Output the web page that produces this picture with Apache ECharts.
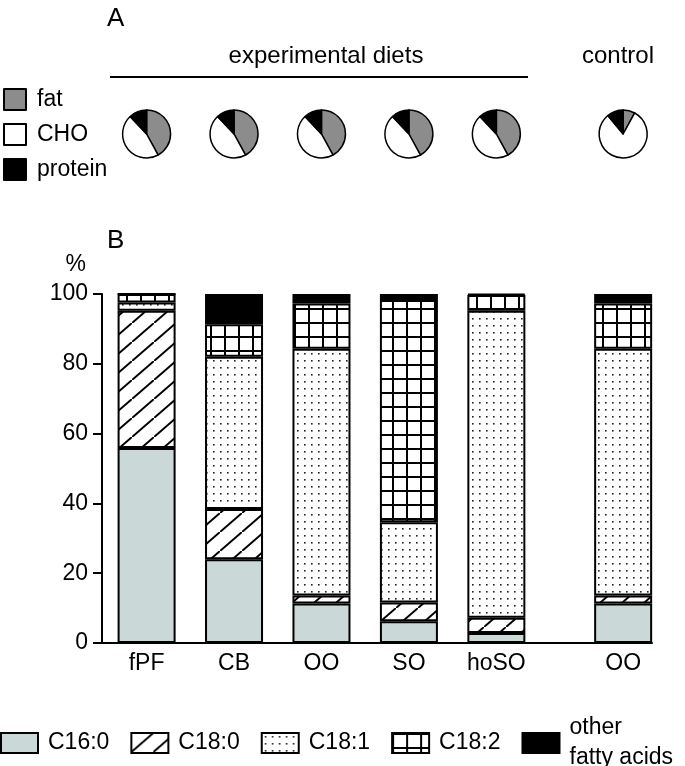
<!DOCTYPE html>
<html>
<head>
<meta charset="utf-8">
<script src="https://cdn.jsdelivr.net/npm/echarts@6.0.0/dist/echarts.min.js"></script>
<style>
  html, body { margin: 0; padding: 0; background: #fff; }
  #chart { width: 685px; height: 766px; }
</style>
</head>
<body>
<div id="chart"></div>
<script>
// panel B: fatty acid composition (% of total fat)
const diets = ["fPF", "CB", "OO", "SO", "hoSO", "OO"];
const dietPos = [0, 1, 2, 3, 4, 5.45]; // control sits a bit further right
const c160 = [55.9, 24.0, 11.3, 6.2, 2.9, 11.3];
const c180 = [39.3, 14.4, 2.3, 5.4, 4.3, 2.3];
const c181 = [2.4, 43.6, 70.7, 23.0, 88.0, 70.7];
const c182 = [2.4, 9.3, 13.0, 63.7, 4.5, 13.0];
const otherFa = [0, 8.7, 2.7, 1.7, 0.3, 2.7];
const yTicks = [0, 20, 40, 60, 80, 100];

// panel A: energy share of the diets
const macroNames = ["fat", "CHO", "protein"];
const expDiet = [42, 46, 12];
const controlDiet = [8, 81, 11];

const FONT = "Liberation Sans";

function tile(w, h, draw) {
  const c = document.createElement("canvas");
  c.width = w; c.height = h;
  const ctx = c.getContext("2d");
  ctx.fillStyle = "#fff";
  ctx.fillRect(0, 0, w, h);
  draw(ctx, w, h);
  return { image: c, repeat: "repeat" };
}

const hatch = tile(22, 19, (ctx, w, h) => {
  ctx.strokeStyle = "#000";
  ctx.lineWidth = 2;
  [-1, 0, 1].forEach(k => {
    ctx.beginPath();
    ctx.moveTo(k * w, h - k * h);
    ctx.lineTo(w + k * w, -k * h);
    ctx.stroke();
  });
});
const dots = tile(7, 7, ctx => {
  ctx.fillStyle = "#222";
  ctx.fillRect(3, 3, 1.6, 1.6);
});
const grid = tile(14, 14, ctx => {
  ctx.fillStyle = "#000";
  ctx.fillRect(0, 0, 14, 2);
  ctx.fillRect(0, 0, 2, 14);
});

const chart = echarts.init(document.getElementById("chart"));

const barDefs = [
  ["C16:0", c160, "#cbd8d8"],
  ["C18:0", c180, hatch],
  ["C18:1", c181, dots],
  ["C18:2", c182, grid],
  ["other fatty acids", otherFa, "#000"]
];

// value first so that it is the stacked dimension
const barSeries = barDefs.map(([name, vals, color]) => ({
  name,
  type: "bar",
  stack: "fa",
  barWidth: 58,
  encode: { x: 1, y: 0 },
  data: dietPos.map((x, i) => [vals[i], x]),
  itemStyle: { color, borderColor: "#000", borderWidth: 2 },
  emphasis: { disabled: true }
}));

const baseOption = {
  animation: false,
  textStyle: { fontFamily: FONT },
  grid: { left: 102, right: 33, top: 294, bottom: 123 },
  xAxis: {
    type: "value",
    min: -0.51,
    max: 5.78,
    splitLine: { show: false },
    axisTick: { show: false },
    axisLine: { show: true, onZero: false, lineStyle: { color: "#000", width: 2 } },
    axisLabel: {
      customValues: dietPos,
      color: "#000",
      fontSize: 23,
      margin: 9,
      formatter: v => diets[dietPos.indexOf(v)] || ""
    }
  },
  yAxis: {
    type: "value",
    min: 0,
    max: 100,
    interval: 20,
    name: "%",
    nameLocation: "end",
    nameGap: 18,
    nameTextStyle: { color: "#000", fontSize: 23, align: "right", padding: [0, 16, 0, 0] },
    splitLine: { show: false },
    axisLine: { show: true, onZero: false, lineStyle: { color: "#000", width: 2 } },
    axisTick: { show: true, length: 9, lineStyle: { color: "#000", width: 2 } },
    axisLabel: { color: "#000", fontSize: 23, margin: 14, customValues: yTicks }
  },
  legend: [
    {
      data: barDefs.map(d => d[0]),
      left: 0,
      top: 713,
      width: 800,
      padding: 0,
      icon: "rect",
      itemWidth: 37,
      itemHeight: 20,
      itemGap: 21,
      selectedMode: false,
      formatter: n => n === "other fatty acids" ? "other\nfatty acids" : n,
      textStyle: { color: "#000", fontSize: 23, lineHeight: 30, padding: [0, 0, 0, 5] }
    },
    {
      data: macroNames,
      orient: "vertical",
      left: 3,
      top: 88,
      padding: 0,
      icon: "rect",
      itemWidth: 22,
      itemHeight: 21,
      itemGap: 12,
      selectedMode: false,
      textStyle: { color: "#000", fontSize: 23, padding: [0, 0, 0, 6] }
    }
  ],
  graphic: [
    { type: "text", left: 107, top: 6, style: { text: "A", fontSize: 26, fontFamily: FONT, fill: "#000" } },
    { type: "text", left: 107, top: 228, style: { text: "B", fontSize: 26, fontFamily: FONT, fill: "#000" } },
    { type: "text", x: 326, y: 56, style: { text: "experimental diets", fontSize: 24, fontFamily: FONT, fill: "#000", align: "center", verticalAlign: "middle" } },
    { type: "text", x: 618, y: 56, style: { text: "control", fontSize: 24, fontFamily: FONT, fill: "#000", align: "center", verticalAlign: "middle" } },
    { type: "line", shape: { x1: 110, y1: 77, x2: 528, y2: 77 }, style: { stroke: "#000", lineWidth: 2 } }
  ],
  series: barSeries
};

chart.setOption(baseOption);

const pieColors = ["#8c8c8c", "#fff", "#000"];
const pieSeries = dietPos.map((x, i) => {
  const vals = i === dietPos.length - 1 ? controlDiet : expDiet;
  return {
    type: "pie",
    radius: 24,
    center: [chart.convertToPixel({ xAxisIndex: 0 }, x), 134],
    startAngle: 90,
    clockwise: true,
    label: { show: false },
    labelLine: { show: false },
    emphasis: { disabled: true },
    itemStyle: { borderColor: "#000", borderWidth: 1.5 },
    data: macroNames.map((n, k) => ({ name: n, value: vals[k], itemStyle: { color: pieColors[k] } }))
  };
});

chart.setOption({ series: barSeries.concat(pieSeries) });
</script>
</body>
</html>
